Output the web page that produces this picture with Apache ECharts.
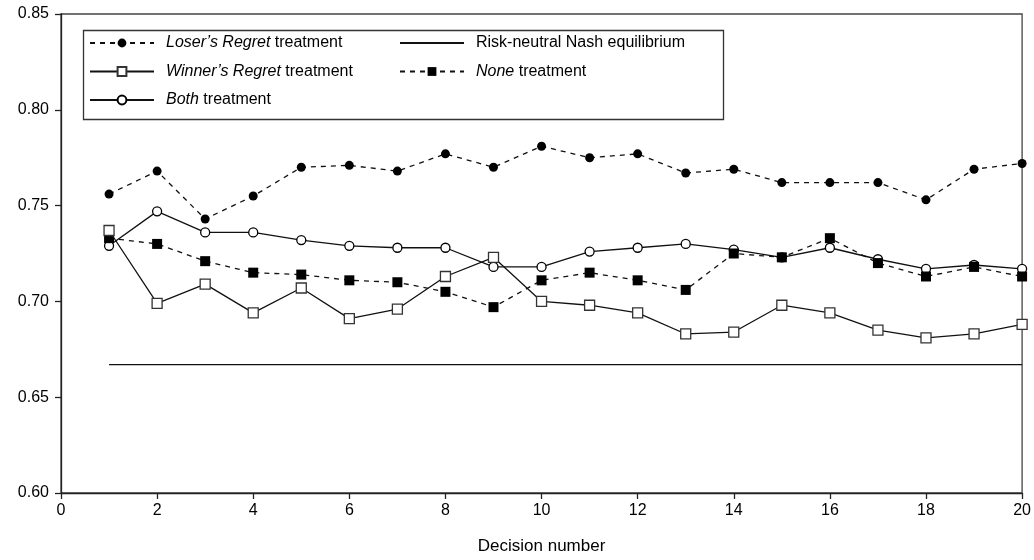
<!DOCTYPE html>
<html>
<head>
<meta charset="utf-8">
<script src="https://cdn.jsdelivr.net/npm/echarts@6/dist/echarts.min.js"></script>
<style>html,body{margin:0;padding:0;background:#fff;}#c{width:1034px;height:560px;}</style>
</head>
<body>
<div id="c"></div>
<script>
const decisions = [1,2,3,4,5,6,7,8,9,10,11,12,13,14,15,16,17,18,19,20];
const losersRegret = [0.756,0.768,0.743,0.755,0.770,0.771,0.768,0.777,0.770,0.781,0.775,0.777,0.767,0.769,0.762,0.762,0.762,0.753,0.769,0.772];
const winnersRegret = [0.737,0.699,0.709,0.694,0.707,0.691,0.696,0.713,0.723,0.700,0.698,0.694,0.683,0.684,0.698,0.694,0.685,0.681,0.683,0.688];
const both = [0.729,0.747,0.736,0.736,0.732,0.729,0.728,0.728,0.718,0.718,0.726,0.728,0.730,0.727,0.723,0.728,0.722,0.717,0.719,0.717];
const none = [0.733,0.730,0.721,0.715,0.714,0.711,0.710,0.705,0.697,0.711,0.715,0.711,0.706,0.725,0.723,0.733,0.720,0.713,0.718,0.713];
const nashX = [1,20];
const nashY = [0.667,0.667];
const yTicks = [0.60,0.65,0.70,0.75,0.80,0.85];
const xTicks = [0,2,4,6,8,10,12,14,16,18,20];

const names = {
  lr: "Loser\u2019s Regret treatment",
  wr: "Winner\u2019s Regret treatment",
  bo: "Both treatment",
  ne: "Risk-neutral Nash equilibrium",
  no: "None treatment"
};
const legendText = {};
legendText[names.lr] = "{i|Loser\u2019s Regret} treatment";
legendText[names.wr] = "{i|Winner\u2019s Regret} treatment";
legendText[names.bo] = "{i|Both} treatment";
legendText[names.ne] = "Risk-neutral Nash equilibrium";
legendText[names.no] = "{i|None} treatment";

const pair = (xs, ys) => xs.map((x,i)=>[x, ys[i]]);
const FONT = "Liberation Sans";
const INK = "#111";

const legendBase = {
  orient: 'vertical',
  itemWidth: 64,
  itemHeight: 11,
  itemGap: 12.5,
  formatter: n => legendText[n],
  textStyle: {
    fontFamily: FONT, fontSize: 16, color: '#000', padding: [0,0,0,7],
    rich: { i: { fontFamily: FONT, fontSize: 16, fontStyle: 'italic', color: '#000' } }
  },
  selectedMode: false
};

const option = {
  animation: false,
  backgroundColor: '#fff',
  grid: { left: 61, right: 7, top: 14, bottom: 65, show: true, borderColor: '#444', borderWidth: 1.3, backgroundColor: 'transparent' },
  xAxis: {
    type: 'value', min: xTicks[0], max: xTicks[xTicks.length-1], interval: 2,
    name: 'Decision number', nameLocation: 'middle', nameGap: 45,
    nameTextStyle: { fontFamily: FONT, fontSize: 17, color: '#000' },
    axisLine: { show: true, onZero: false, lineStyle: { color: '#222', width: 1.3 } },
    axisTick: { show: true, length: 6, lineStyle: { color: '#222', width: 1.3 } },
    axisLabel: { fontFamily: FONT, fontSize: 16, color: '#000', margin: 10 },
    splitLine: { show: false }
  },
  yAxis: {
    type: 'value', min: yTicks[0], max: yTicks[yTicks.length-1], interval: 0.05,
    axisLine: { show: true, lineStyle: { color: '#222', width: 1.3 } },
    axisTick: { show: true, length: 6, lineStyle: { color: '#222', width: 1.3 } },
    axisLabel: { fontFamily: FONT, fontSize: 16, color: '#000', margin: 12, formatter: v => v.toFixed(2) },
    splitLine: { show: false }
  },
  legend: [
    Object.assign({}, legendBase, { left: 84, top: 30, data: [names.lr, names.wr, names.bo] }),
    Object.assign({}, legendBase, { left: 394, top: 30, data: [
      { name: names.ne, itemStyle: { opacity: 0 } },
      names.no
    ] })
  ],
  graphic: [{
    type: 'rect', left: 81, top: 28, shape: { width: 640, height: 89 },
    style: { fill: 'none', stroke: '#333', lineWidth: 1.3 }, z: 100
  }],
  series: [
    {
      name: names.ne, type: 'line', data: pair(nashX, nashY), symbol: 'none',
      lineStyle: { color: INK, width: 1.3, type: 'solid' }, itemStyle: { color: INK }, z: 1
    },
    {
      name: names.lr, type: 'line', data: pair(decisions, losersRegret), symbol: 'circle', symbolSize: 9,
      lineStyle: { color: INK, width: 1.3, type: [5,5] }, itemStyle: { color: '#000' }, z: 2
    },
    {
      name: names.bo, type: 'line', data: pair(decisions, both), symbol: 'circle', symbolSize: 9,
      lineStyle: { color: INK, width: 1.3, type: 'solid' }, itemStyle: { color: '#fff', borderColor: '#000', borderWidth: 1.3 }, z: 3
    },
    {
      name: names.no, type: 'line', data: pair(decisions, none), symbol: 'rect', symbolSize: 10,
      lineStyle: { color: INK, width: 1.3, type: [5,5] }, itemStyle: { color: '#000' }, z: 4
    },
    {
      name: names.wr, type: 'line', data: pair(decisions, winnersRegret), symbol: 'rect', symbolSize: 10,
      lineStyle: { color: INK, width: 1.3, type: 'solid' }, itemStyle: { color: '#fff', borderColor: '#333', borderWidth: 1.3 }, z: 5
    }
  ]
};
const chart = echarts.init(document.getElementById('c'), null, { renderer: 'canvas' });
chart.setOption(option);
</script>
</body>
</html>
